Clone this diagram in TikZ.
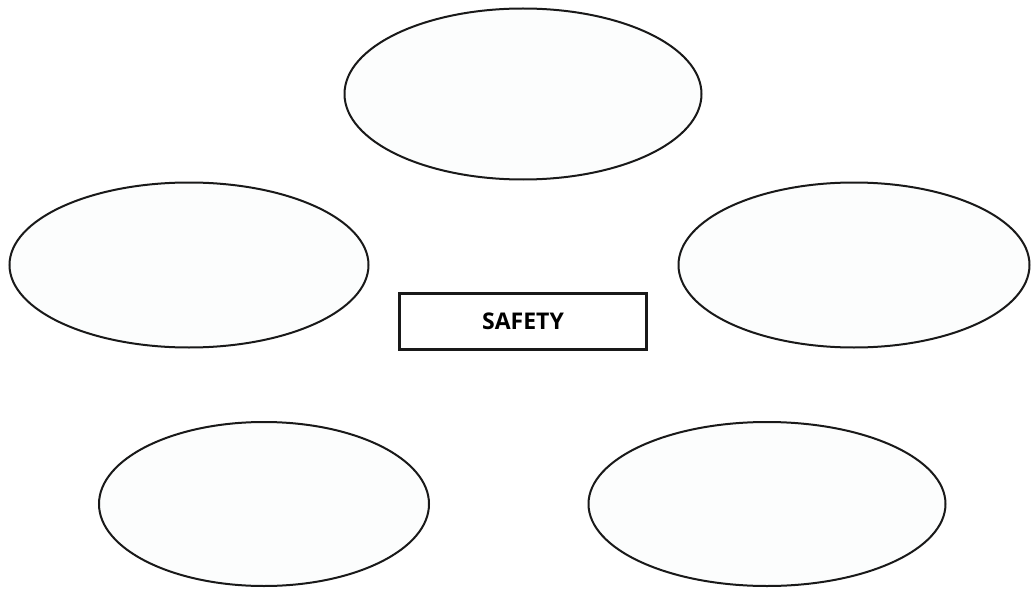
\documentclass[tikz,border=0pt]{standalone}
\usepackage{fontspec}
\setsansfont{Open Sans}
\usetikzlibrary{shapes.geometric,positioning}
\definecolor{bubblefill}{RGB}{252,253,253}
\definecolor{lineblack}{RGB}{25,25,25}

\begin{document}
\begin{tikzpicture}[x=1pt, y=-1pt,
  bubble/.style={draw=lineblack, ellipse, line width=2pt, fill=bubblefill, inner sep=0pt},
  topic/.style={draw=lineblack, rectangle, line width=2.2pt, fill=white, minimum width=247pt, minimum height=56pt, font=\sffamily\bfseries\fontsize{23}{27}\selectfont}
]
\useasboundingbox (0,0) rectangle (1031,615);
\node[topic] (safety) at (523,321.5) {SAFETY};

\node[bubble, minimum width=357pt, minimum height=171pt] (top) at (523,94) {};
\node[bubble, minimum width=359pt, minimum height=165pt] (left) at (189,265) {};
\node[bubble, minimum width=351pt, minimum height=165pt] (right) at (854,265) {};
\node[bubble, minimum width=330pt, minimum height=164pt] (botleft) at (264,504) {};
\node[bubble, minimum width=357pt, minimum height=164pt] (botright) at (767,504) {};
\end{tikzpicture}
\end{document}
